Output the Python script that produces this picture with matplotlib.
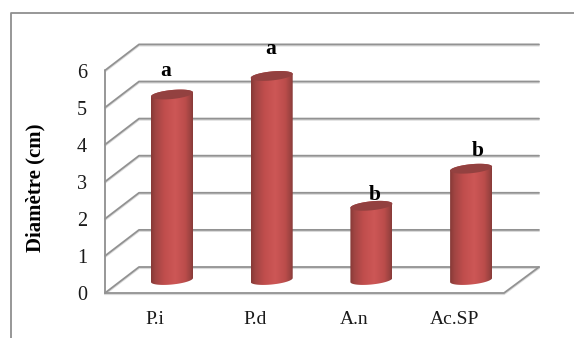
import numpy as np
import matplotlib
matplotlib.use("Agg")
import matplotlib.pyplot as plt
from matplotlib.colors import LinearSegmentedColormap
from matplotlib.lines import Line2D
from matplotlib.patches import Polygon

categories = ["P.i", "P.d", "A.n", "Ac.SP"]
values = [5.0, 5.5, 2.0, 3.0]
letters = ["a", "a", "b", "b"]
y_ticks = [0, 1, 2, 3, 4, 5, 6]

W, H = 574, 338
PX_X = 99.7    # pixels per category
PX_Y = 37.1    # pixels per y unit
X0, Y0 = 172, 280    # pixel position of category 0, value 0

GRID = "#929292"
GRID_SOFT = "#dadada"
FRAME = "#8f8f8f"
TOP = "#934140"
SERIF = ["Liberation Serif", "DejaVu Serif"]

# floor offset of the front and back walls, in y units
FRONT = -13 / PX_Y
BACK = 13 / PX_Y
LEFT_F, LEFT_B = (105 - X0) / PX_X, (139 - X0) / PX_X
RIGHT_F, RIGHT_B = (504 - X0) / PX_X, (539 - X0) / PX_X

# letter offsets from the cylinder top, in pixels
LETTER_DX = [-6, -1, 3, 7]
LETTER_DY = [23, 27, 11, 18]

shade = LinearSegmentedColormap.from_list("cyl", [
    (0.0, "#853936"), (0.1, "#9f4442"), (0.32, "#c04e4d"),
    (0.58, "#cd5756"), (0.82, "#bb4d4b"), (0.94, "#9c4341"), (1.0, "#873a38"),
])

fig = plt.figure(figsize=(W / 100, H / 100), dpi=100)
ax = fig.add_axes([0, 0, 1, 1])
ax.set_xlim((0 - X0) / PX_X, (W - X0) / PX_X)
ax.set_ylim((Y0 - H) / PX_Y, Y0 / PX_Y)
ax.axis("off")

# outer frame, open on the right and at the bottom
fig.add_artist(Line2D([11 / W, 11 / W, 1], [0, 1 - 13 / H, 1 - 13 / H],
                      color=FRAME, lw=1.3))


def wall_line(xs, ys, lw=1.3):
    ax.plot(xs, [y - 1.2 / PX_Y for y in ys], color=GRID_SOFT, lw=lw, zorder=1,
            solid_capstyle="round")
    ax.plot(xs, ys, color=GRID, lw=lw, zorder=1.1, solid_capstyle="round")


# back wall gridlines and the side wall slants
for t in y_ticks:
    wall_line([LEFT_F, LEFT_B, RIGHT_B], [t + FRONT, t + BACK, t + BACK])

# left edge, front of the floor, right edge of the floor
wall_line([LEFT_F, LEFT_F], [FRONT, y_ticks[-1] + FRONT])
wall_line([LEFT_F, RIGHT_F, RIGHT_B], [FRONT, FRONT, BACK])


def ellipse(cx, cy, t):
    a, b, tilt = 21, 4.5, 2
    return (cx + a * np.cos(t) / PX_X,
            cy + (b * np.sin(t) + tilt * np.cos(t)) / PX_Y)


grad = np.linspace(0, 1, 256).reshape(1, -1)
half_w = 21 / PX_X
for i, v in enumerate(values):
    lower = np.linspace(np.pi, 2 * np.pi, 60)
    upper = np.linspace(0, np.pi, 60)
    bx, by = ellipse(i, 0, lower)
    tx, ty = ellipse(i, v, upper)
    body = Polygon(np.column_stack([np.r_[bx, tx], np.r_[by, ty]]),
                   closed=True, transform=ax.transData, fc="none", ec="none")
    ax.add_patch(body)
    im = ax.imshow(grad, cmap=shade, aspect="auto", zorder=3,
                   extent=(i - half_w, i + half_w, -1, v + 1))
    im.set_clip_path(body)

    cap_x, cap_y = ellipse(i, v, np.linspace(0, 2 * np.pi, 120))
    ax.fill(cap_x, cap_y, color=TOP, lw=0, zorder=4)

    ax.text(i + LETTER_DX[i] / PX_X, v + LETTER_DY[i] / PX_Y, letters[i],
            family=SERIF, fontsize=15.5, fontweight="bold", color="black",
            ha="center", va="center", zorder=5)

ax.set_xlim((0 - X0) / PX_X, (W - X0) / PX_X)
ax.set_ylim((Y0 - H) / PX_Y, Y0 / PX_Y)

for t in y_ticks:
    ax.text((87 - X0) / PX_X, t + FRONT - 3 / PX_Y, str(t), family=SERIF,
            fontsize=14.5, ha="right", va="center", color="#1a1a1a")

for i, name in enumerate(categories):
    ax.text(i - 17 / PX_X, (Y0 - 320) / PX_Y, name, family=SERIF, fontsize=14,
            ha="center", va="center", color="#1a1a1a")

ax.text((35 - X0) / PX_X, (Y0 - 188) / PX_Y, "Diamètre (cm)", family=SERIF,
        fontsize=15, fontweight="bold", rotation=90, ha="center", va="center",
        color="black")

fig.savefig("out.png", dpi=100, facecolor="white")
